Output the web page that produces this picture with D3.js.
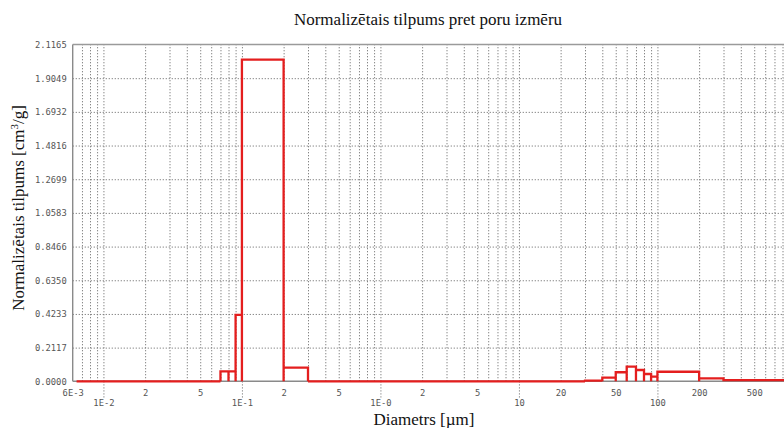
<!DOCTYPE html>
<html>
<head>
<meta charset="utf-8">
<script src="https://cdn.jsdelivr.net/npm/d3@7"></script>
<style>
  html, body { margin: 0; padding: 0; background: #fff; overflow: hidden; }
  svg { display: block; }
  .lbl text { font-family: "DejaVu Sans Mono", monospace; font-size: 8.8px; fill: #555; }
  .serif { font-family: "Liberation Serif", "Times New Roman", serif; font-size: 17px; fill: #111; }
</style>
</head>
<body>
<svg id="chart" width="784" height="428"></svg>
<script>
// Pore-size histogram: bin edges (µm) and normalised volume per bin (cm³/g)
const binEdges   = [0.0064, 0.07, 0.08, 0.09, 0.1, 0.2, 0.3, 30, 40, 50, 60, 70, 80, 90, 100, 200, 300, 1000];
const binVolumes = [0, 0.062, 0.062, 0.418, 2.022, 0.086, 0, 0.004, 0.023, 0.057, 0.092, 0.071, 0.046, 0.029, 0.060, 0.019, 0.008];

// Axis ticks
const yTicks = [0, 0.2117, 0.4233, 0.6350, 0.8466, 1.0583, 1.2699, 1.4816, 1.6932, 1.9049, 2.1165];
const xMinorTicks  = [0.006, 0.02, 0.05, 0.2, 0.5, 2, 5, 20, 50, 200, 500];
const xMinorLabels = ["6E-3", "2", "5", "2", "5", "2", "5", "20", "50", "200", "500"];
const xDecadeTicks  = [0.01, 0.1, 1, 10, 100];
const xDecadeLabels = ["1E-2", "1E-1", "1E-0", "10", "100"];

const svg = d3.select("#chart");
const plotLeft = 72.7, plotTop = 44.5, plotBottom = 381.3, decadeW = 138.5;
const xMin = 0.006, xMax = 1000;
const gridColor = "#7a7a7a";

const x = d3.scaleLog()
  .domain([xMin, xMax])
  .range([plotLeft, plotLeft + decadeW * Math.log10(xMax / xMin)]);
const y = d3.scaleLinear().domain([0, 2.1165]).range([plotBottom, plotTop]);
const plotW = x(xMax) - plotLeft;

// Dotted vertical grid at every 1..9 × 10^n
const vGrid = svg.append("g")
  .attr("transform", `translate(0,${plotBottom})`)
  .call(d3.axisBottom(x).tickValues(x.ticks().filter(d => d > xMin * 1.01))
    .tickSize(-(plotBottom - plotTop)).tickFormat(""));
vGrid.select(".domain").remove();
vGrid.selectAll("line").attr("stroke", gridColor).attr("stroke-width", 1).attr("stroke-dasharray", "1.2,1.8");

// Dotted horizontal grid
const hGrid = svg.append("g")
  .attr("transform", `translate(${plotLeft},0)`)
  .call(d3.axisRight(y).tickValues(yTicks.slice(1, -1)).tickSize(plotW).tickFormat(""));
hGrid.select(".domain").remove();
hGrid.selectAll("line").attr("stroke", gridColor).attr("stroke-width", 1).attr("stroke-dasharray", "1.2,1.8");

// Y tick labels
const yAxis = svg.append("g").attr("class", "lbl")
  .attr("transform", `translate(${plotLeft},0)`)
  .call(d3.axisLeft(y).tickValues(yTicks).tickSize(0).tickPadding(6).tickFormat(d => d.toFixed(4)));
yAxis.select(".domain").remove();

// X labels: first row (2, 5, ...)
const xAxis1 = svg.append("g").attr("class", "lbl")
  .attr("transform", `translate(0,${plotBottom})`)
  .call(d3.axisBottom(x).tickValues(xMinorTicks).tickSize(0)
    .tickFormat((d, i) => xMinorLabels[i]));
xAxis1.select(".domain").remove();
xAxis1.selectAll("text").attr("y", 12).attr("dy", "0.32em");

// X labels: decades, with dotted ticks dropping below the axis
const xAxis2 = svg.append("g").attr("class", "lbl")
  .attr("transform", `translate(0,${plotBottom})`)
  .call(d3.axisBottom(x).tickValues(xDecadeTicks).tickSize(17)
    .tickFormat((d, i) => xDecadeLabels[i]));
xAxis2.select(".domain").remove();
xAxis2.selectAll("line").attr("stroke", gridColor).attr("stroke-dasharray", "1.2,1.8");
xAxis2.selectAll("text").attr("y", 22).attr("dy", "0.32em");

// Plot frame
svg.append("line").attr("x1", plotLeft).attr("x2", 784).attr("y1", plotTop).attr("y2", plotTop)
  .attr("stroke", "#9a9a9a").attr("stroke-width", 1.6);
svg.append("line").attr("x1", plotLeft).attr("x2", plotLeft).attr("y1", plotTop).attr("y2", plotBottom)
  .attr("stroke", "#8a8a8a").attr("stroke-width", 1.4);
svg.append("line").attr("x1", plotLeft).attr("x2", 784).attr("y1", plotBottom).attr("y2", plotBottom)
  .attr("stroke", "#8a8a8a").attr("stroke-width", 1.4);

// Histogram outline
let d = "";
binVolumes.forEach((v, i) => {
  d += `M${x(binEdges[i])},${y(0)}V${y(v)}H${x(binEdges[i + 1])}V${y(0)}`;
});
svg.append("path").attr("d", d)
  .attr("fill", "none").attr("stroke", "#e41e1e").attr("stroke-width", 2.3)
  .attr("stroke-linejoin", "miter");

// Titles
svg.append("text").attr("class", "serif")
  .attr("x", 428).attr("y", 25).attr("text-anchor", "middle")
  .text("Normalizētais tilpums pret poru izmēru");

svg.append("text").attr("class", "serif")
  .attr("x", 424).attr("y", 425).attr("text-anchor", "middle")
  .text("Diametrs [µm]");

const yl = svg.append("text").attr("class", "serif")
  .attr("transform", "translate(24,208) rotate(-90)")
  .attr("text-anchor", "middle");
yl.append("tspan").text("Normalizētais tilpums [cm");
yl.append("tspan").attr("dy", -6).attr("font-size", 11).text("3");
yl.append("tspan").attr("dy", 6).text("/g]");
</script>
</body>
</html>
